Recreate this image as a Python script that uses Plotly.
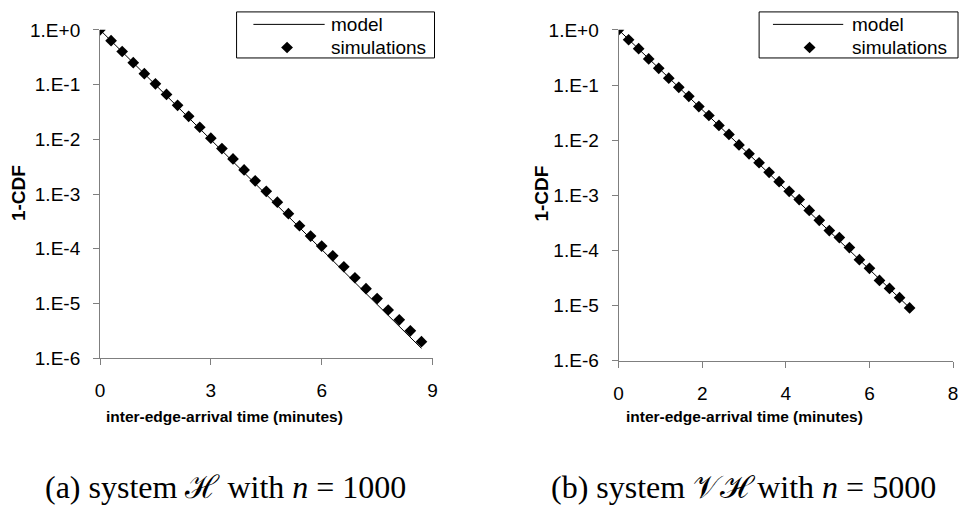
import plotly.graph_objects as go

# ---- data: system H, n = 1000 ----
h_time = [0.0, 0.3, 0.6, 0.9, 1.2, 1.5, 1.8, 2.1, 2.4, 2.7, 3.0, 3.3, 3.6, 3.9, 4.2,
          4.5, 4.8, 5.1, 5.4, 5.7, 6.0, 6.3, 6.6, 6.9, 7.2, 7.5, 7.8, 8.1, 8.4, 8.7]
h_model = [1.0, 0.630, 0.397, 0.250, 0.1574, 0.0992, 0.0625, 0.0394, 0.0248, 0.01562,
           0.00984, 0.00620, 0.00391, 0.00246, 0.00155, 0.000976, 0.000615, 0.000388,
           0.000244, 0.0001538, 9.69e-5, 6.10e-5, 3.84e-5, 2.42e-5, 1.525e-5, 9.61e-6,
           6.05e-6, 3.81e-6, 2.40e-6, 1.51e-6]
h_sim = [1.0, 0.634, 0.402, 0.251, 0.158, 0.103, 0.0661, 0.0417, 0.0263, 0.0166,
         0.0105, 0.00676, 0.00437, 0.00275, 0.00174, 0.00112, 0.000708, 0.000437,
         0.000263, 0.000170, 0.000112, 7.41e-5, 4.68e-5, 2.95e-5, 1.86e-5, 1.23e-5,
         7.59e-6, 5.01e-6, 3.16e-6, 2.0e-6]

# ---- data: system VH, n = 5000 ----
vh_time = [0.0, 0.24, 0.48, 0.72, 0.96, 1.20, 1.44, 1.68, 1.92, 2.16, 2.40, 2.64, 2.88,
           3.12, 3.36, 3.60, 3.84, 4.08, 4.32, 4.56, 4.80, 5.04, 5.28, 5.52, 5.76, 6.00,
           6.24, 6.48, 6.72, 6.96]
vh_model = [1.0, 0.670, 0.449, 0.301, 0.2017, 0.1352, 0.0906, 0.0607, 0.0407, 0.0273,
            0.01828, 0.01225, 0.00821, 0.00550, 0.00369, 0.00247, 0.001656, 0.001110,
            0.000744, 0.000499, 0.000334, 0.000224, 0.0001501, 0.0001006, 6.74e-5,
            4.52e-5, 3.03e-5, 2.03e-5, 1.36e-5, 9.12e-6]
vh_sim = [1.0, 0.662, 0.456, 0.297, 0.201, 0.133, 0.0906, 0.0624, 0.0407, 0.0280,
          0.0185, 0.0127, 0.00818, 0.00564, 0.00389, 0.00261, 0.00177, 0.00118,
          0.000836, 0.000531, 0.000352, 0.000229, 0.000171, 0.000113, 6.81e-5,
          4.75e-5, 2.86e-5, 2.05e-5, 1.39e-5, 9.06e-6]

y_tickvals = [1, 1e-1, 1e-2, 1e-3, 1e-4, 1e-5, 1e-6]
y_ticktext = ["1.E+0", "1.E-1", "1.E-2", "1.E-3", "1.E-4", "1.E-5", "1.E-6"]
h_xticks = [0, 3, 6, 9]
vh_xticks = [0, 2, 4, 6, 8]

x_title = "inter-edge-arrival time (minutes)"
y_title = "1-CDF"
captions = ["(a) system \u210b with <i>n</i> = 1000",
            "(b) system \U0001D4B1\u210b with <i>n</i> = 5000"]

W, H = 966, 514
SANS = "Liberation Sans, Arial, sans-serif"
SERIF = "Liberation Serif, DejaVu Serif, serif"
AXIS_COLOR = "#7f7f7f"


def px(x):
    return x / W


def py(y):
    return 1 - y / H


fig = go.Figure()

panels = [
    dict(t=h_time, m=h_model, s=h_sim, xa="x", ya="y"),
    dict(t=vh_time, m=vh_model, s=vh_sim, xa="x2", ya="y2"),
]
for p in panels:
    fig.add_trace(go.Scatter(x=p["t"], y=p["m"], mode="lines", name="model",
                             line=dict(color="black", width=1),
                             xaxis=p["xa"], yaxis=p["ya"], showlegend=False))
    fig.add_trace(go.Scatter(x=p["t"], y=p["s"], mode="markers", name="simulations",
                             marker=dict(symbol="diamond", size=9, color="black"),
                             xaxis=p["xa"], yaxis=p["ya"], showlegend=False))

common_x = dict(showline=True, linecolor=AXIS_COLOR, linewidth=1, ticks="outside",
                ticklen=6, tickcolor=AXIS_COLOR, showgrid=False, zeroline=False,
                tickfont=dict(family=SANS, size=19, color="black"),
                ticklabelstandoff=9)
common_y = dict(type="log", range=[-6, 0], showline=True, linecolor=AXIS_COLOR,
                linewidth=1, ticks="outside", ticklen=6, tickcolor=AXIS_COLOR,
                showgrid=False, zeroline=False, tickvals=y_tickvals,
                ticktext=y_ticktext, tickfont=dict(family=SANS, size=19, color="black"),
                ticklabelstandoff=9)

fig.update_layout(
    width=W, height=H,
    margin=dict(l=0, r=0, t=0, b=0),
    paper_bgcolor="white", plot_bgcolor="white",
    showlegend=False,
    xaxis=dict(domain=[px(96), px(432)], range=[0, 9], tickvals=h_xticks,
               anchor="y", **common_x),
    yaxis=dict(domain=[py(363), py(20.7)], anchor="x", **common_y),
    xaxis2=dict(domain=[px(620), px(958)], range=[0, 8], tickvals=vh_xticks,
                anchor="y2", **common_x),
    yaxis2=dict(domain=[py(365.7), py(20.7)], anchor="x2", **common_y),
)

# axis titles
for cx, ycx in [(222, 13), (747, 542)]:
    fig.add_annotation(x=px(cx), y=py(424), xref="paper", yref="paper",
                       text="<b>" + x_title + "</b>", showarrow=False,
                       font=dict(family=SANS, size=15.5, color="black"),
                       xanchor="center", yanchor="middle")
    fig.add_annotation(x=px(ycx), y=py(191), xref="paper", yref="paper",
                       text="<b>" + y_title + "</b>", showarrow=False, textangle=-90,
                       font=dict(family=SANS, size=19, color="black"),
                       xanchor="center", yanchor="middle")

# legend boxes drawn in paper space
legends = [dict(x0=234, x1=434, l0=251, l1=323, dx=285, tx=327),
           dict(x0=762, x1=963, l0=776, l1=847, dx=813, tx=854)]
for lg in legends:
    fig.add_shape(type="rect", xref="paper", yref="paper",
                  x0=px(lg["x0"]), x1=px(lg["x1"]), y0=py(50), y1=py(2),
                  line=dict(color="black", width=1), fillcolor="white", layer="above")
    fig.add_shape(type="line", xref="paper", yref="paper",
                  x0=px(lg["l0"]), x1=px(lg["l1"]), y0=py(15), y1=py(15),
                  line=dict(color="black", width=1), layer="above")
    d = 6
    cx, cy = lg["dx"], 39
    fig.add_shape(type="path", xref="paper", yref="paper",
                  path=f"M {px(cx - d)} {py(cy)} L {px(cx)} {py(cy - d)} "
                       f"L {px(cx + d)} {py(cy)} L {px(cx)} {py(cy + d)} Z",
                  fillcolor="black", line=dict(color="black", width=0), layer="above")
    for label, ty in [("model", 15), ("simulations", 39)]:
        fig.add_annotation(x=px(lg["tx"]), y=py(ty), xref="paper", yref="paper",
                           text=label, showarrow=False, xanchor="left",
                           yanchor="middle",
                           font=dict(family=SANS, size=19, color="black"))

# sub-figure captions
for cap, x0 in zip(captions, [38, 550]):
    fig.add_annotation(x=px(x0), y=py(497), xref="paper", yref="paper",
                       text=cap, showarrow=False, xanchor="left", yanchor="middle",
                       font=dict(family=SERIF, size=32, color="black"))

fig.write_html("out.html")
